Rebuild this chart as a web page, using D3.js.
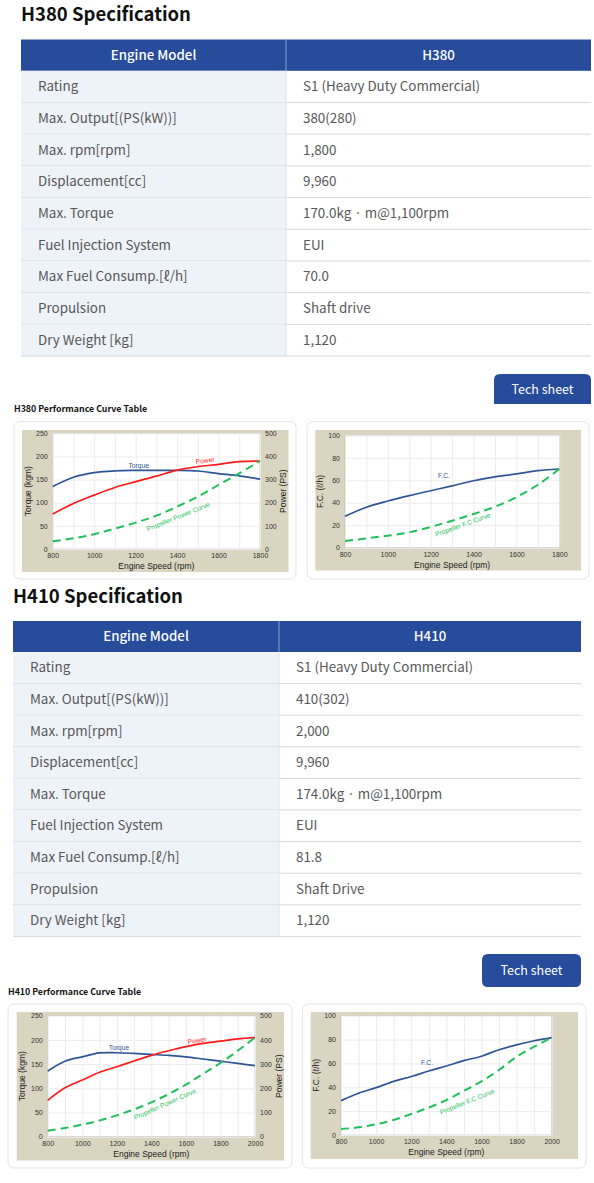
<!DOCTYPE html>
<html>
<head>
<meta charset="utf-8">
<script src="https://cdn.jsdelivr.net/npm/d3@7"></script>
<style>
  body { margin: 0; background: #fff; }
  svg { display: block; }
</style>
</head>
<body>
<svg id="page" width="594" height="1183"></svg>
<script>
// spec table rows
const specLabels = ["Rating", "Max. Output[(PS(kW))]", "Max. rpm[rpm]", "Displacement[cc]", "Max. Torque",
  "Fuel Injection System", "Max Fuel Consump.[ℓ/h]", "Propulsion", "Dry Weight [kg]"];
const h380Specs = ["S1 (Heavy Duty Commercial)", "380(280)", "1,800", "9,960", "170.0kg · m@1,100rpm",
  "EUI", "70.0", "Shaft drive", "1,120"];
const h410Specs = ["S1 (Heavy Duty Commercial)", "410(302)", "2,000", "9,960", "174.0kg · m@1,100rpm",
  "EUI", "81.8", "Shaft Drive", "1,120"];

// H380 curves
const rpm380 = [800, 900, 1000, 1100, 1200, 1300, 1400, 1500, 1600, 1700, 1800];
const torque380 = [135, 155, 165, 169, 170, 170, 170, 168.5, 163, 158, 151];
const power380 = [151, 197, 233, 266, 291, 315, 341, 356, 366, 378, 380];
const propPower380 = [33, 46, 64, 88, 114, 144, 183, 226, 277, 327, 380];
const fc380 = [28, 36, 41.5, 46.3, 50.7, 55, 59.6, 63, 65.6, 68.5, 70];
const propFc380 = [6, 8.3, 10.7, 13.6, 18.5, 24, 30, 36.4, 45, 56, 70];

// H410 curves
const rpm410 = [800, 900, 1000, 1100, 1200, 1300, 1400, 1500, 1600, 1700, 1800, 1900, 2000];
const torque410 = [135.7, 156, 165, 173, 173.5, 172, 170, 168, 165, 160.5, 156, 151.5, 146.7];
const power410 = [150, 202, 234, 266, 289, 313, 336, 355, 372, 386, 395, 404, 409];
const propPower410 = [25, 36, 50, 67, 88, 113, 142, 176, 215, 260, 305, 355, 410];
const fc410 = [28.8, 35, 39.7, 45, 49, 53.6, 57.8, 62.3, 66, 71.5, 75.5, 79, 81.6];
const propFc410 = [5, 6.4, 9, 12.6, 17.6, 23, 29.3, 37, 45, 54.5, 65.6, 74, 81.6];

// tick labels
const torqueTicks = [0, 50, 100, 150, 200, 250];
const powerTicks = [0, 100, 200, 300, 400, 500];
const fcTicks = [0, 20, 40, 60, 80, 100];
const rpmTicks380 = [800, 1000, 1200, 1400, 1600, 1800];
const rpmTicks410 = [800, 1000, 1200, 1400, 1600, 1800, 2000];

const BLUE = "#264c9b";
const KR = "'Noto Sans CJK KR', 'Noto Sans', sans-serif";
const AR = "'Liberation Sans', Arial, sans-serif";
const svg = d3.select("#page");

//----------- spec table ------------
function specTable(o) {
  const g = svg.append("g");
  g.append("text").attr("x", o.x).attr("y", o.titleY)
    .attr("font-family", KR).attr("font-weight", 700).attr("font-size", 18.5).attr("fill", "#111")
    .text(o.title);

  const rows = d3.range(specLabels.length);
  const y = d3.scaleBand().domain(rows).range([o.top + o.headH, o.top + o.headH + o.rowH * rows.length]);

  // header
  g.append("rect").attr("x", o.x).attr("y", o.top).attr("width", o.right - o.x).attr("height", o.headH).attr("fill", BLUE);
  g.append("line").attr("x1", o.split).attr("x2", o.split).attr("y1", o.top).attr("y2", o.top + o.headH)
    .attr("stroke", "#8da2cc").attr("stroke-width", 1);
  g.append("text").attr("x", (o.x + o.split) / 2).attr("y", o.top + o.headH / 2 + 4.5)
    .attr("text-anchor", "middle").attr("font-family", KR).attr("font-weight", 500).attr("font-size", 13.3)
    .attr("fill", "#fff").text("Engine Model");
  g.append("text").attr("x", (o.split + o.right) / 2).attr("y", o.top + o.headH / 2 + 4.5)
    .attr("text-anchor", "middle").attr("font-family", KR).attr("font-weight", 500).attr("font-size", 13.3)
    .attr("fill", "#fff").text(o.model);

  // body
  const row = g.selectAll("g.row").data(rows).join("g").attr("class", "row");
  row.append("rect").attr("x", o.x).attr("y", i => y(i)).attr("width", o.split - o.x).attr("height", y.bandwidth())
    .attr("fill", "#eef2f9");
  row.append("line").attr("x1", o.x).attr("x2", o.right).attr("y1", i => y(i) + y.bandwidth()).attr("y2", i => y(i) + y.bandwidth())
    .attr("stroke", "#d5d8de").attr("stroke-width", 1);
  row.append("text").attr("x", o.x + 17).attr("y", i => y(i) + y.bandwidth() / 2 + 4.5)
    .attr("font-family", KR).attr("font-size", 13.4).attr("fill", "#585858").text(i => specLabels[i]);
  row.append("text").attr("x", o.split + 17).attr("y", i => y(i) + y.bandwidth() / 2 + 4.5)
    .attr("font-family", KR).attr("font-size", 13.4).attr("fill", "#585858").text(i => o.values[i]);
  g.append("line").attr("x1", o.split).attr("x2", o.split).attr("y1", o.top + o.headH).attr("y2", y(rows.length - 1) + y.bandwidth())
    .attr("stroke", "#dde1e8").attr("stroke-width", 1);

  // tech sheet button
  const b = o.btn;
  const r = 6;
  let p;
  if (b.cut) {
    p = `M${b.x},${b.y + b.h} V${b.y + r} Q${b.x},${b.y} ${b.x + r},${b.y} H${b.x + b.w - r} Q${b.x + b.w},${b.y} ${b.x + b.w},${b.y + r} V${b.y + b.h} Z`;
  } else {
    p = `M${b.x + r},${b.y} H${b.x + b.w - r} Q${b.x + b.w},${b.y} ${b.x + b.w},${b.y + r} V${b.y + b.h - r} Q${b.x + b.w},${b.y + b.h} ${b.x + b.w - r},${b.y + b.h} H${b.x + r} Q${b.x},${b.y + b.h} ${b.x},${b.y + b.h - r} V${b.y + r} Q${b.x},${b.y} ${b.x + r},${b.y} Z`;
  }
  g.append("path").attr("d", p).attr("fill", BLUE);
  g.append("text").attr("x", b.x + b.w / 2).attr("y", b.y + 21 - (b.cut ? 1.5 : 0)).attr("text-anchor", "middle")
    .attr("font-family", KR).attr("font-size", 12.5).attr("fill", "#fff").text("Tech sheet");

  g.append("text").attr("x", o.perfX).attr("y", o.perfY)
    .attr("font-family", KR).attr("font-weight", 700).attr("font-size", 8.8).attr("fill", "#111")
    .text(o.model + " Performance Curve Table");
}

//----------- performance chart ------------
function perfChart(o) {
  const g = svg.append("g");
  g.append("rect").attr("x", o.card[0]).attr("y", o.card[1]).attr("width", o.card[2]).attr("height", o.card[3])
    .attr("rx", 6).attr("fill", "#fff").attr("stroke", "#e4e4e4");
  g.append("rect").attr("x", o.bg[0]).attr("y", o.bg[1]).attr("width", o.bg[2]).attr("height", o.bg[3])
    .attr("fill", "#d9d5c1");

  const [px, py, pw, ph] = o.plot;
  const x = d3.scaleLinear().domain(o.xDomain).range([px, px + pw]);
  const yL = d3.scaleLinear().domain([0, o.yMax]).range([py + ph, py]);
  const yR = o.y2Max ? d3.scaleLinear().domain([0, o.y2Max]).range([py + ph, py]) : null;

  g.append("rect").attr("x", px).attr("y", py).attr("width", pw).attr("height", ph)
    .attr("fill", "#fff").attr("stroke", "#b9b9b9").attr("stroke-width", 0.6);

  // grid
  g.append("g").attr("transform", `translate(0,${py + ph})`)
    .call(d3.axisBottom(x).tickValues(d3.range(o.xDomain[0], o.xDomain[1] + 1, 100)).tickSize(-ph).tickFormat(""))
    .call(a => a.select(".domain").remove())
    .call(a => a.selectAll("line").attr("stroke", "#ececec"));
  g.append("g").attr("transform", `translate(${px},0)`)
    .call(d3.axisLeft(yL).tickValues(o.yTicks).tickSize(-pw).tickFormat(""))
    .call(a => a.select(".domain").remove())
    .call(a => a.selectAll("line").attr("stroke", "#ececec"));

  // axis labels
  const styleTicks = a => {
    a.select(".domain").remove();
    a.selectAll("line").remove();
    a.selectAll("text").attr("font-family", AR).attr("font-size", 7).attr("fill", "#333");
  };
  g.append("g").attr("transform", `translate(0,${py + ph})`)
    .call(d3.axisBottom(x).tickValues(o.xTicks).tickSize(0).tickPadding(4).tickFormat(d3.format("d")))
    .call(styleTicks);
  g.append("g").attr("transform", `translate(${px},0)`)
    .call(d3.axisLeft(yL).tickValues(o.yTicks).tickSize(0).tickPadding(5))
    .call(styleTicks);
  if (yR) {
    g.append("g").attr("transform", `translate(${px + pw},0)`)
      .call(d3.axisRight(yR).tickValues(o.y2Ticks).tickSize(0).tickPadding(5))
      .call(styleTicks);
  }

  g.append("text").attr("x", px + pw / 2).attr("y", py + ph + 20).attr("text-anchor", "middle")
    .attr("font-family", AR).attr("font-size", 8.5).attr("fill", "#222").text("Engine Speed (rpm)");
  g.append("text").attr("transform", `translate(${o.yTitleX},${py + ph / 2}) rotate(-90)`).attr("text-anchor", "middle")
    .attr("dy", "0.35em").attr("font-family", AR).attr("font-size", 8.5).attr("fill", "#222").text(o.yTitle);
  if (yR) {
    g.append("text").attr("transform", `translate(${o.y2TitleX},${py + ph / 2}) rotate(-90)`).attr("text-anchor", "middle")
      .attr("dy", "0.35em").attr("font-family", AR).attr("font-size", 8.5).attr("fill", "#222").text(o.y2Title);
  }

  // series
  o.series.forEach(s => {
    const ys = s.right ? yR : yL;
    const line = d3.line().x((d, i) => x(o.rpm[i])).y(d => ys(d)).curve(d3.curveCatmullRom.alpha(0.5));
    g.append("path").datum(s.values).attr("d", line).attr("fill", "none")
      .attr("stroke", s.color).attr("stroke-width", s.dash ? 2 : 1.7)
      .attr("stroke-dasharray", s.dash ? "8,5" : null);
    const [lr, lv, rot] = s.label;
    g.append("text").attr("transform", `translate(${x(lr)},${ys(lv)}) rotate(${rot})`)
      .attr("text-anchor", "middle").attr("dy", "0.35em")
      .attr("font-family", AR).attr("font-size", 6.7).attr("fill", s.color).text(s.name);
  });
}

specTable({
  title: "H380 Specification", model: "H380", values: h380Specs,
  x: 21, right: 591, split: 286, titleY: 21, top: 39.5, headH: 31.3, rowH: 31.7,
  btn: { x: 494, y: 374, w: 97, h: 30, cut: true }, perfX: 14, perfY: 412
});
specTable({
  title: "H410 Specification", model: "H410", values: h410Specs,
  x: 13, right: 581, split: 279, titleY: 602.5, top: 621, headH: 31, rowH: 31.6,
  btn: { x: 482, y: 954, w: 99, h: 33, cut: false }, perfX: 8, perfY: 994.5
});

perfChart({
  card: [14, 421.5, 282, 157.5], bg: [22, 430, 266.5, 142], plot: [52.7, 433.3, 207.3, 115.7],
  rpm: rpm380, xDomain: [800, 1800], xTicks: rpmTicks380,
  yMax: 250, yTicks: torqueTicks, y2Max: 500, y2Ticks: powerTicks,
  yTitle: "Torque (kgm)", yTitleX: 28, y2Title: "Power (PS)", y2TitleX: 283,
  series: [
    { name: "Torque", values: torque380, color: "#2f5597", label: [1215, 181, 0] },
    { name: "Power", values: power380, color: "#ff1a1a", right: true, label: [1535, 383, -8] },
    { name: "Propeller Power Curve", values: propPower380, color: "#1fbf5a", right: true, dash: true, label: [1405, 140, -22] }
  ]
});
perfChart({
  card: [307, 421.5, 282, 157.5], bg: [315.3, 430, 265.7, 140.5], plot: [345, 435.3, 214.3, 112.4],
  rpm: rpm380, xDomain: [800, 1800], xTicks: rpmTicks380,
  yMax: 100, yTicks: fcTicks,
  yTitle: "F.C. (ℓ/h)", yTitleX: 320,
  series: [
    { name: "F.C.", values: fc380, color: "#2f5597", label: [1262, 64, 0] },
    { name: "Propeller F.C Curve", values: propFc380, color: "#1fbf5a", dash: true, label: [1350, 20.5, -20] }
  ]
});
perfChart({
  card: [8, 1004, 284, 164], bg: [16.7, 1012, 267.3, 148.5], plot: [47.7, 1015.7, 207.3, 121],
  rpm: rpm410, xDomain: [800, 2000], xTicks: rpmTicks410,
  yMax: 250, yTicks: torqueTicks, y2Max: 500, y2Ticks: powerTicks,
  yTitle: "Torque (kgm)", yTitleX: 22, y2Title: "Power (PS)", y2TitleX: 279,
  series: [
    { name: "Torque", values: torque410, color: "#2f5597", label: [1213, 183, 0] },
    { name: "Power", values: power410, color: "#ff1a1a", right: true, label: [1664, 398, -10] },
    { name: "Propeller Power Curve", values: propPower410, color: "#1fbf5a", right: true, dash: true, label: [1479, 135, -24] }
  ]
});
perfChart({
  card: [302.3, 1004, 283.7, 164], bg: [310.7, 1012, 267.3, 147], plot: [341, 1015.7, 210.7, 119.3],
  rpm: rpm410, xDomain: [800, 2000], xTicks: rpmTicks410,
  yMax: 100, yTicks: fcTicks,
  yTitle: "F.C. (ℓ/h)", yTitleX: 316,
  series: [
    { name: "F.C.", values: fc410, color: "#2f5597", label: [1290, 60.5, 0] },
    { name: "Propeller F.C Curve", values: propFc410, color: "#1fbf5a", dash: true, label: [1518, 28, -22] }
  ]
});
</script>
</body>
</html>
